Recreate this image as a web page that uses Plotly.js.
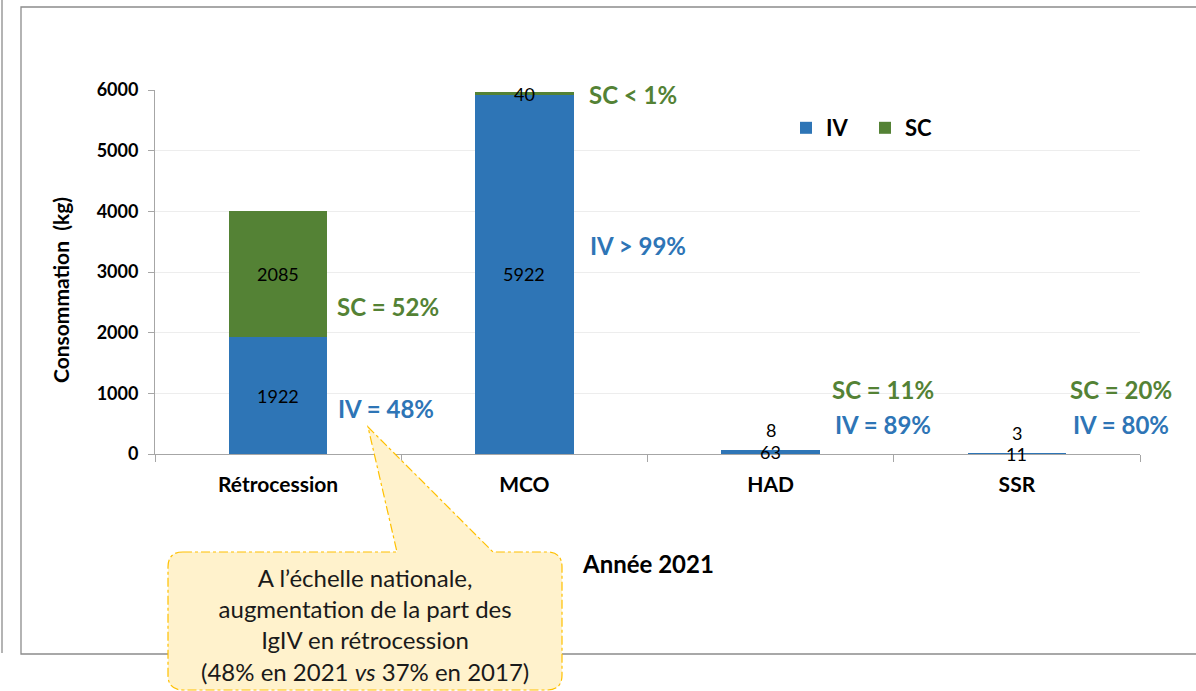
<!DOCTYPE html>
<html>
<head>
<meta charset="utf-8">
<script src="https://cdn.plot.ly/plotly-3.0.1.min.js"></script>
<style>html,body{margin:0;padding:0;background:#fff;}#chart{width:1196px;height:691px;}</style>
</head>
<body>
<div id="chart"></div>
<script>
// ---- data ----
const categories = ['Rétrocession', 'MCO', 'HAD', 'SSR'];
const ivValues = [1922, 5922, 63, 11];
const scValues = [2085, 40, 8, 3];
const scShareLabels = ['SC = 52%', 'SC < 1%', 'SC = 11%', 'SC = 20%'];
const ivShareLabels = ['IV = 48%', 'IV > 99%', 'IV = 89%', 'IV = 80%'];
const yTicks = [0, 1000, 2000, 3000, 4000, 5000, 6000];
const seriesNames = ['IV', 'SC'];
const xTitle = 'Année 2021';
const yTitle = 'Consommation&nbsp; (kg)';
const calloutText = 'A l’échelle nationale,<br>augmentation de la part des<br>IgIV en rétrocession<br>(48% en 2021 <i>vs</i> 37% en 2017)';

// ---- style ----
const BLUE = '#2E75B6', GREEN = '#548235';
const FONT = 'Lato, "Open Sans", sans-serif';
const W = 1196, H = 691;
const M = {l: 155, r: 56, t: 90, b: 237};
const PW = W - M.l - M.r, PH = H - M.t - M.b;
const px = x => (x - M.l) / PW;
const py = y => (M.t + PH - y) / PH;

const traces = [
  {type: 'bar', name: seriesNames[0], x: categories, y: ivValues, marker: {color: BLUE}, hoverinfo: 'skip'},
  {type: 'bar', name: seriesNames[1], x: categories, y: scValues, marker: {color: GREEN}, hoverinfo: 'skip'}
];

const annotations = [];
// value labels
categories.forEach((c, i) => {
  annotations.push({x: c, y: ivValues[i] / 2, xref: 'x', yref: 'y', text: String(ivValues[i]),
    showarrow: false, font: {family: FONT, size: 18, color: '#000'}, yanchor: 'middle'});
  const total = ivValues[i] + scValues[i];
  const small = total < 500;
  annotations.push({x: c, y: small ? total : ivValues[i] + scValues[i] / 2, xref: 'x', yref: 'y',
    text: String(scValues[i]), showarrow: false, yshift: small ? 20 : 0,
    font: {family: FONT, size: 18, color: '#000'}, yanchor: 'middle'});
});
// share labels (pixel positions)
const scPos = [[388, 306], [633, 95], [883, 389], [1121, 389]];
const ivPos = [[386, 408], [638, 245], [883, 424], [1121, 424]];
categories.forEach((c, i) => {
  annotations.push({xref: 'paper', yref: 'paper', x: px(scPos[i][0]), y: py(scPos[i][1]), text: scShareLabels[i],
    showarrow: false, font: {family: FONT, size: 24, color: GREEN, weight: 'bold'}, xanchor: 'center', yanchor: 'middle'});
  annotations.push({xref: 'paper', yref: 'paper', x: px(ivPos[i][0]), y: py(ivPos[i][1]), text: ivShareLabels[i],
    showarrow: false, font: {family: FONT, size: 24, color: BLUE, weight: 'bold'}, xanchor: 'center', yanchor: 'middle'});
});
// titles
annotations.push({xref: 'paper', yref: 'paper', x: px(648), y: py(563), text: xTitle, showarrow: false,
  font: {family: FONT, size: 24, color: '#000', weight: 'bold'}, xanchor: 'center', yanchor: 'middle'});
annotations.push({xref: 'paper', yref: 'paper', x: px(60), y: py(290), text: yTitle, showarrow: false, textangle: -90,
  font: {family: FONT, size: 21, color: '#000', weight: 'bold'}, xanchor: 'center', yanchor: 'middle'});
// callout text
annotations.push({xref: 'paper', yref: 'paper', x: px(365), y: py(624), text: calloutText, showarrow: false,
  font: {family: FONT, size: 24, color: '#1a1a1a'}, xanchor: 'center', yanchor: 'middle', align: 'center'});

function P(x, y) { return px(x).toFixed(5) + ',' + py(y).toFixed(5); }
const calloutPath =
  'M' + P(183, 552) + ' L' + P(397, 552) + ' L' + P(368, 427) + ' L' + P(493, 552) + ' L' + P(547, 552) +
  ' Q' + P(562, 552) + ' ' + P(562, 567) + ' L' + P(562, 675) + ' Q' + P(562, 690) + ' ' + P(547, 690) +
  ' L' + P(183, 690) + ' Q' + P(168, 690) + ' ' + P(168, 675) + ' L' + P(168, 567) + ' Q' + P(168, 552) + ' ' + P(183, 552) + ' Z';

const shapes = [
  {type: 'rect', xref: 'paper', yref: 'paper', x0: px(21), x1: px(1215), y0: py(654), y1: py(7),
    line: {color: '#8C8C8C', width: 1.3}, fillcolor: 'rgba(0,0,0,0)', layer: 'below'},
  {type: 'line', xref: 'paper', yref: 'paper', x0: px(2), x1: px(2), y0: py(653), y1: py(-5),
    line: {color: '#8C8C8C', width: 1.3}, layer: 'below'},
  {type: 'path', xref: 'paper', yref: 'paper', path: calloutPath, fillcolor: '#FFF2CC',
    line: {color: '#FFC000', width: 1.2, dash: 'dashdot'}, layer: 'above'}
];

const layout = {
  width: W, height: H,
  margin: M,
  paper_bgcolor: '#fff', plot_bgcolor: '#fff',
  barmode: 'stack', bargap: 0.6,
  showlegend: true,
  legend: {orientation: 'h', x: px(786), y: py(107), xanchor: 'left', yanchor: 'top', traceorder: 'normal',
    font: {family: FONT, size: 22, color: '#000', weight: 'bold'}, entrywidth: 34, entrywidthmode: 'pixels',
    bgcolor: 'rgba(0,0,0,0)'},
  xaxis: {type: 'category', categoryorder: 'array', categoryarray: categories, range: [-0.5, 3.5],
    showline: true, linecolor: '#A6A6A6', linewidth: 1, ticks: 'outside', tickson: 'boundaries', ticklen: 7,
    tickcolor: '#A6A6A6', showgrid: false, zeroline: false, ticklabelstandoff: 12,
    tickfont: {family: FONT, size: 21, color: '#000', weight: 'bold'}, fixedrange: true},
  yaxis: {range: [0, 6000], tickvals: yTicks, showline: true, linecolor: '#A6A6A6', linewidth: 1,
    ticks: 'outside', ticklen: 6, tickcolor: '#A6A6A6', showgrid: true, gridcolor: '#EDEDED', gridwidth: 1,
    zeroline: false, ticklabelstandoff: 6,
    tickfont: {family: FONT, size: 18, color: '#000', weight: 'bold'}, fixedrange: true},
  annotations: annotations,
  shapes: shapes,
  hovermode: false
};

Plotly.newPlot('chart', traces, layout, {displayModeBar: false, staticPlot: true});
</script>
</body>
</html>
